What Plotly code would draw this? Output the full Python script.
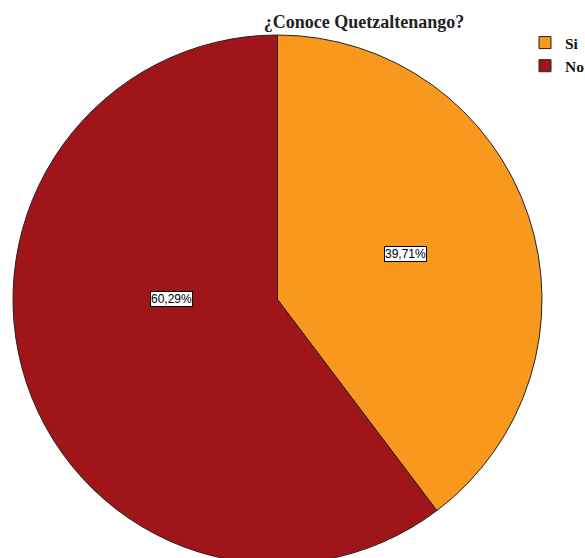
import plotly.graph_objects as go

# Survey answers and their shares (%)
categories = ["Si", "No"]
shares = [39.71, 60.29]
colors = ["#F8981D", "#A01519"]

# Figure is a little taller than the window, so the bottom of the pie runs off the page
W, H = 585, 600

# Pie bounding box in pixels (left, right, top, bottom)
PIE_L, PIE_R, PIE_T, PIE_B = 13, 542, 35, 564

fig = go.Figure(
    go.Pie(
        labels=categories,
        values=shares,
        sort=False,
        direction="clockwise",
        rotation=0,
        textinfo="none",
        hoverinfo="label+percent",
        marker=dict(colors=colors, line=dict(color="#222222", width=1)),
        domain=dict(x=[PIE_L / W, PIE_R / W], y=[1 - PIE_B / H, 1 - PIE_T / H]),
    )
)

# Percentage labels in white boxes, positioned inside each slice
label_pos = {"Si": (405, 254), "No": (171, 299)}
for cat, val in zip(categories, shares):
    px, py = label_pos[cat]
    fig.add_annotation(
        x=px / W, y=1 - py / H, xref="paper", yref="paper",
        xanchor="center", yanchor="middle",
        text=f"{val:.2f}%".replace(".", ","),
        showarrow=False,
        font=dict(family="Liberation Sans, Arial, sans-serif", size=12, color="black"),
        bgcolor="white", bordercolor="black", borderwidth=1, borderpad=0,
    )

fig.update_layout(
    width=W, height=H,
    margin=dict(l=0, r=0, t=0, b=0, autoexpand=False),
    paper_bgcolor="white",
    plot_bgcolor="white",
    separators=",.",
    title=dict(
        text="¿Conoce Quetzaltenango?",
        x=364 / W, xanchor="center",
        y=1 - 22 / H, yanchor="middle",
        font=dict(family="Liberation Serif, Times New Roman, serif", size=18,
                  weight="bold", color="#222"),
    ),
    legend=dict(
        x=525 / W, xanchor="left",
        y=1 - 26 / H, yanchor="top",
        font=dict(family="Liberation Serif, Times New Roman, serif", size=15.5,
                  weight="bold", color="#111"),
        bgcolor="rgba(0,0,0,0)",
        tracegroupgap=0,
        itemwidth=30,
    ),
    showlegend=True,
)

fig.write_html(
    "out.html",
    post_script="document.body.style.margin='0';document.body.style.overflow='hidden';",
)
